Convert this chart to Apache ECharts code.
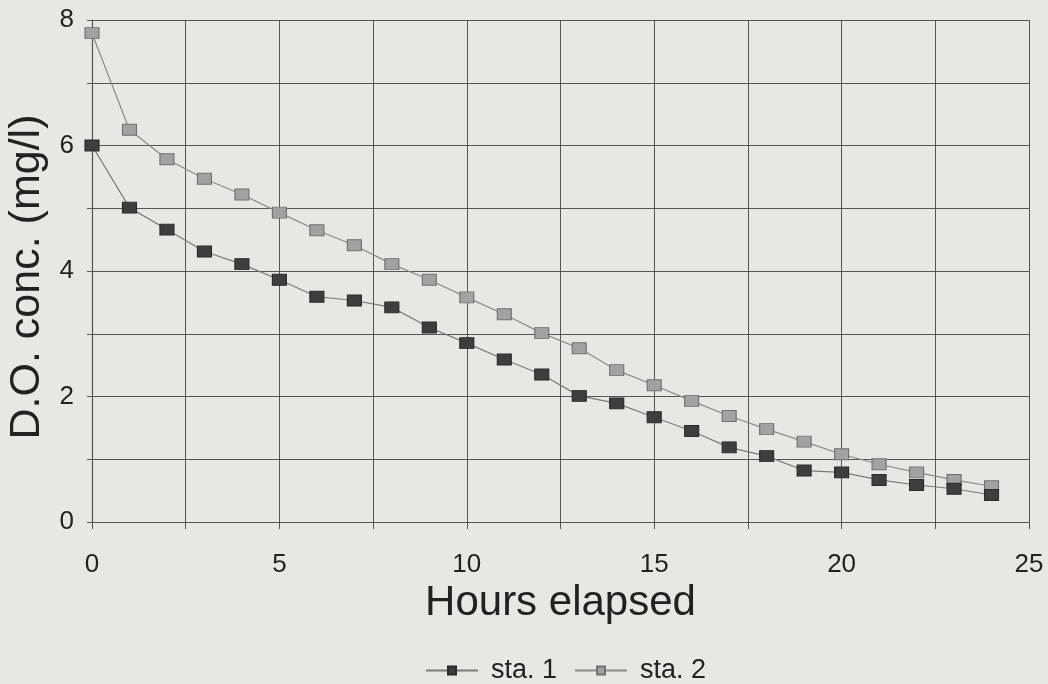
<!DOCTYPE html>
<html>
<head>
<meta charset="utf-8">
<script src="https://cdn.jsdelivr.net/npm/echarts@6/dist/echarts.min.js"></script>
<style>
html,body{margin:0;padding:0;background:#e7e7e5;}
#c{width:1048px;height:684px;}
</style>
</head>
<body>
<div id="c"></div>
<script>
const hours = [0,1,2,3,4,5,6,7,8,9,10,11,12,13,14,15,16,17,18,19,20,21,22,23,24];
const sta1 = [6.0,5.01,4.66,4.31,4.11,3.86,3.59,3.53,3.42,3.10,2.85,2.59,2.35,2.01,1.89,1.67,1.45,1.19,1.05,0.82,0.79,0.67,0.59,0.53,0.43];
const sta2 = [7.79,6.25,5.78,5.47,5.22,4.93,4.65,4.41,4.11,3.86,3.58,3.31,3.01,2.77,2.42,2.18,1.93,1.69,1.48,1.28,1.08,0.92,0.79,0.67,0.57];
const seriesNames = ['sta. 1','sta. 2'];
const xLabelTicks = [0,5,10,15,20,25];
const yLabelTicks = [0,2,4,6,8];

const font = '"Liberation Sans", Arial, sans-serif';
const chart = echarts.init(document.getElementById('c'), null, {renderer:'canvas'});
chart.setOption({
  backgroundColor: '#e7e7e5',
  animation: false,
  grid: {left: 92, right: 19, top: 20, bottom: 162, containLabel: false, outerBoundsMode: 'none'},
  legend: {
    top: 652, left: 420,
    itemWidth: 52, itemHeight: 10, itemGap: 17,
    textStyle: {fontFamily: font, fontSize: 27, color: '#222', padding: [0, 0, 0, 8]},
    data: seriesNames
  },
  xAxis: {
    type: 'value', min: 0, max: 25, interval: 2.5,
    name: 'Hours elapsed', nameLocation: 'middle', nameGap: 60,
    nameTextStyle: {fontFamily: font, fontSize: 42, color: '#222'},
    axisLine: {show: true, lineStyle: {color: '#555', width: 1.2}},
    axisTick: {show: true, length: 7, lineStyle: {color: '#555'}},
    splitLine: {show: true, lineStyle: {color: '#555', width: 1}},
    axisLabel: {
      margin: 30, fontFamily: font, fontSize: 26, color: '#222',
      formatter: v => xLabelTicks.indexOf(v) >= 0 ? String(v) : ''
    }
  },
  yAxis: {
    type: 'value', min: 0, max: 8, interval: 1,
    name: 'D.O. conc. (mg/l)', nameLocation: 'middle', nameGap: 35, nameRotate: 90,
    nameTextStyle: {fontFamily: font, fontSize: 43, color: '#222', padding: [0, 12, 0, 0]},
    axisLine: {show: true, lineStyle: {color: '#555', width: 1.2}},
    axisTick: {show: true, length: 5, lineStyle: {color: '#555'}},
    splitLine: {show: true, lineStyle: {color: '#555', width: 1}},
    axisLabel: {
      margin: 18, fontFamily: font, fontSize: 26, color: '#222',
      formatter: v => yLabelTicks.indexOf(v) >= 0 ? String(v) : ''
    }
  },
  series: [
    {
      name: seriesNames[1], type: 'line', z: 3,
      data: hours.map((h,i) => [h, sta2[i]]),
      symbol: 'rect', symbolSize: [14, 11], showAllSymbol: true,
      lineStyle: {color: '#8a8a8a', width: 1.2},
      itemStyle: {color: '#a2a2a2', borderColor: '#707070', borderWidth: 1}
    },
    {
      name: seriesNames[0], type: 'line', z: 4,
      data: hours.map((h,i) => [h, sta1[i]]),
      symbol: 'rect', symbolSize: [14, 11], showAllSymbol: true,
      lineStyle: {color: '#7a7a7a', width: 1.2},
      itemStyle: {color: '#3e3e3e', borderColor: '#2a2a2a', borderWidth: 1}
    }
  ]
});
</script>
</body>
</html>
